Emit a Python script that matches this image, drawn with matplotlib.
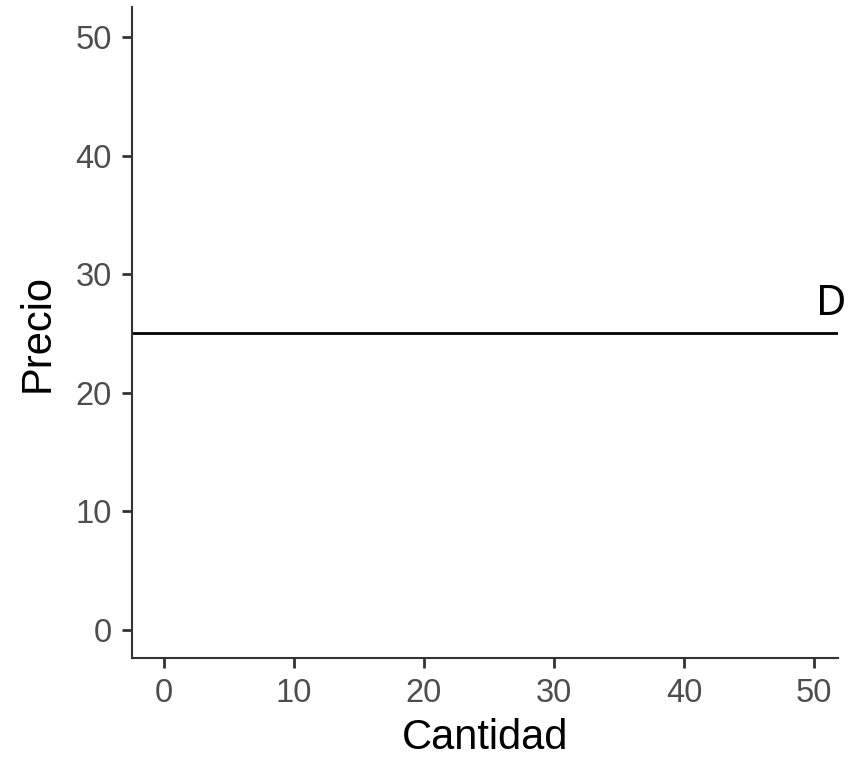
import matplotlib
matplotlib.use("Agg")
import matplotlib.pyplot as plt

# demanda perfectamente elastica
precio_D = 25
etiqueta_D = "D"
etiqueta_pos = (51.3, 27.5)

x_ticks = [0, 10, 20, 30, 40, 50]
y_ticks = [0, 10, 20, 30, 40, 50]

plt.rcParams['font.family'] = ['Liberation Sans', 'DejaVu Sans']

fig = plt.figure(figsize=(8.59, 7.57), dpi=100)
ax = fig.add_axes([132 / 859, 99 / 757, 706 / 859, 650.5 / 757])

ax.axhline(precio_D, color='black', linewidth=2.0)
ax.text(etiqueta_pos[0], etiqueta_pos[1], etiqueta_D, fontsize=30,
        ha='center', va='center', color='black',
        family=['Noto Sans', 'DejaVu Sans'])

ax.set_xlim(-2.46, 51.85)
ax.set_ylim(-2.4, 52.5)
ax.set_xticks(x_ticks)
ax.set_yticks(y_ticks)

for side in ['top', 'right']:
    ax.spines[side].set_visible(False)
for side in ['left', 'bottom']:
    ax.spines[side].set_color('#333333')
    ax.spines[side].set_linewidth(1.5)

ax.tick_params(axis='both', length=7.5, width=2.0, color='#333333',
               labelsize=23.5, labelcolor='#4D4D4D', pad=7)

ax.set_xlabel("Cantidad", fontsize=30, color='black', labelpad=6.5)
ax.set_ylabel("Precio", fontsize=30, color='black', labelpad=13)

fig.savefig("out.png", dpi=100)
plt.close(fig)
